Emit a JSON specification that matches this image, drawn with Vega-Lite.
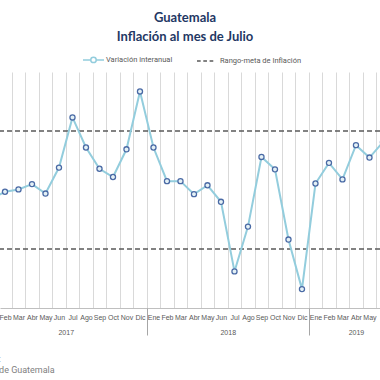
{
  "$schema": "https://vega.github.io/schema/vega-lite/v6.json",
  "width": 380,
  "height": 236,
  "autosize": {"type": "none"},
  "padding": {"left": 0, "top": 72, "right": 0, "bottom": 72},
  "background": "white",
  "config": {
    "view": {"stroke": null},
    "font": "Roboto"
  },
  "title": {
    "text": ["Guatemala", "Inflación al mes de Julio"],
    "font": "Lato",
    "fontSize": 13,
    "fontWeight": "bold",
    "color": "#1F3864",
    "lineHeight": 19,
    "anchor": "middle",
    "offset": 4,
    "dx": -5
  },
  "datasets": {
    "serie": [
      {"idx": 0, "mes": "Ene", "anio": 2017, "v": 3.85},
      {"idx": 1, "mes": "Feb", "anio": 2017, "v": 3.97},
      {"idx": 2, "mes": "Mar", "anio": 2017, "v": 4.01},
      {"idx": 3, "mes": "Abr", "anio": 2017, "v": 4.10},
      {"idx": 4, "mes": "May", "anio": 2017, "v": 3.94},
      {"idx": 5, "mes": "Jun", "anio": 2017, "v": 4.38},
      {"idx": 6, "mes": "Jul", "anio": 2017, "v": 5.23},
      {"idx": 7, "mes": "Ago", "anio": 2017, "v": 4.72},
      {"idx": 8, "mes": "Sep", "anio": 2017, "v": 4.36},
      {"idx": 9, "mes": "Oct", "anio": 2017, "v": 4.22},
      {"idx": 10, "mes": "Nov", "anio": 2017, "v": 4.69},
      {"idx": 11, "mes": "Dic", "anio": 2017, "v": 5.67},
      {"idx": 12, "mes": "Ene", "anio": 2018, "v": 4.72},
      {"idx": 13, "mes": "Feb", "anio": 2018, "v": 4.15},
      {"idx": 14, "mes": "Mar", "anio": 2018, "v": 4.15},
      {"idx": 15, "mes": "Abr", "anio": 2018, "v": 3.93},
      {"idx": 16, "mes": "May", "anio": 2018, "v": 4.08},
      {"idx": 17, "mes": "Jun", "anio": 2018, "v": 3.80},
      {"idx": 18, "mes": "Jul", "anio": 2018, "v": 2.62},
      {"idx": 19, "mes": "Ago", "anio": 2018, "v": 3.38},
      {"idx": 20, "mes": "Sep", "anio": 2018, "v": 4.56},
      {"idx": 21, "mes": "Oct", "anio": 2018, "v": 4.35},
      {"idx": 22, "mes": "Nov", "anio": 2018, "v": 3.16},
      {"idx": 23, "mes": "Dic", "anio": 2018, "v": 2.32},
      {"idx": 24, "mes": "Ene", "anio": 2019, "v": 4.11},
      {"idx": 25, "mes": "Feb", "anio": 2019, "v": 4.46},
      {"idx": 26, "mes": "Mar", "anio": 2019, "v": 4.18},
      {"idx": 27, "mes": "Abr", "anio": 2019, "v": 4.76},
      {"idx": 28, "mes": "May", "anio": 2019, "v": 4.55},
      {"idx": 29, "mes": "Jun", "anio": 2019, "v": 4.81},
      {"idx": 30, "mes": "Jul", "anio": 2019, "v": 3.90}
    ],
    "meta": [
      {"limite": "superior", "v": 5},
      {"limite": "inferior", "v": 3}
    ],
    "leyenda": [
      {"idx": -5, "v": 4, "serie": "Variación interanual"},
      {"idx": -5, "v": 4, "serie": "Rango-meta de Inflación"}
    ]
  },
  "resolve": {"axis": {"x": "independent"}},
  "layer": [
    {
      "data": {"name": "serie"},
      "mark": {"type": "point", "opacity": 0, "clip": true},
      "encoding": {
        "x": {
          "field": "idx", "type": "quantitative",
          "scale": {"domain": [0.63, 28.78], "nice": false, "zero": false},
          "axis": {
            "orient": "bottom",
            "values": [0.5,1.5,2.5,3.5,4.5,5.5,6.5,7.5,8.5,9.5,10.5,11.5,12.5,13.5,14.5,15.5,16.5,17.5,18.5,19.5,20.5,21.5,22.5,23.5,24.5,25.5,26.5,27.5,28.5,29.5],
            "labels": false, "ticks": false, "domain": false, "grid": true,
            "gridColor": "#D9D9D9", "gridWidth": 1, "title": null
          }
        },
        "y": {
          "field": "v", "type": "quantitative",
          "scale": {"domain": [2, 6], "nice": false, "zero": false},
          "axis": {
            "values": [2, 3, 4, 5, 6],
            "labels": false, "ticks": false, "domain": false, "grid": true,
            "gridColor": "#BFBFBF", "gridWidth": 1, "title": null
          }
        }
      }
    },
    {
      "data": {"name": "meta"},
      "mark": {"type": "rule", "stroke": "#595959", "strokeWidth": 1.6, "strokeDash": [5, 3]},
      "encoding": {
        "y": {"field": "v", "type": "quantitative", "scale": {"domain": [2, 6], "nice": false, "zero": false}, "axis": null}
      }
    },
    {
      "data": {"name": "serie"},
      "mark": {"type": "line", "stroke": "#93CDDD", "strokeWidth": 2, "clip": true},
      "encoding": {
        "x": {
          "field": "idx", "type": "quantitative",
          "scale": {"domain": [0.63, 28.78], "nice": false, "zero": false},
          "axis": {
            "orient": "bottom",
            "values": [0,1,2,3,4,5,6,7,8,9,10,11,12,13,14,15,16,17,18,19,20,21,22,23,24,25,26,27,28,29,30],
            "labelExpr": "['Ene','Feb','Mar','Abr','May','Jun','Jul','Ago','Sep','Oct','Nov','Dic'][datum.value % 12]",
            "ticks": false, "domain": true, "domainColor": "#BFBFBF", "domainWidth": 1,
            "grid": false, "labelPadding": 5, "labelFontSize": 7, "labelColor": "#595959",
            "labelFont": "Liberation Sans", "labelOverlap": false, "labelFlush": false, "labelBound": false,
            "title": null
          }
        },
        "y": {"field": "v", "type": "quantitative", "scale": {"domain": [2, 6], "nice": false, "zero": false}, "axis": null}
      }
    },
    {
      "data": {"name": "serie"},
      "mark": {"type": "point", "shape": "circle", "size": 26, "filled": true, "fill": "#E4F1F6", "stroke": "#4A6AA5", "strokeWidth": 1.3, "opacity": 1, "clip": true},
      "encoding": {
        "x": {"field": "idx", "type": "quantitative", "scale": {"domain": [0.63, 28.78], "nice": false, "zero": false}, "axis": null},
        "y": {"field": "v", "type": "quantitative", "scale": {"domain": [2, 6], "nice": false, "zero": false}, "axis": null}
      }
    },
    {
      "data": {"name": "leyenda"},
      "mark": {"type": "point", "filled": true, "fill": "white", "strokeWidth": 1.3, "opacity": 1, "clip": true},
      "encoding": {
        "x": {
          "field": "idx", "type": "quantitative",
          "scale": {"domain": [0.63, 28.78], "nice": false, "zero": false},
          "axis": {
            "orient": "bottom",
            "values": [5.5, 17.5, 27],
            "labelExpr": "datum.value < 12 ? '2017' : (datum.value < 24 ? '2018' : '2019')",
            "ticks": true, "tickSize": 27, "tickOffset": 81, "labelOffset": -81, "tickColor": "#A6A6A6", "tickWidth": 1,
            "domain": false, "grid": false, "labelPadding": -7, "labelFontSize": 7, "labelColor": "#595959",
            "labelFont": "Liberation Sans", "labelOverlap": false, "labelFlush": false, "labelBound": false,
            "title": ["Fuente:", "Banco de Guatemala"],
            "titleX": -29, "titleY": 53, "titleAlign": "left", "titleBaseline": "alphabetic",
            "titleFont": "Roboto", "titleFontSize": 9, "titleFontWeight": "normal", "titleColor": "#7F7F7F",
            "titleLineHeight": 11.5, "titleAngle": 0
          }
        },
        "y": {"field": "v", "type": "quantitative", "scale": {"domain": [2, 6], "nice": false, "zero": false}, "axis": null},
        "stroke": {
          "field": "serie", "type": "nominal",
          "scale": {"domain": ["Variación interanual", "Rango-meta de Inflación"], "range": ["#93CDDD", "#595959"]},
          "legend": {
            "orient": "none", "legendX": 82, "legendY": -24, "direction": "horizontal",
            "title": null, "padding": 0, "symbolSize": 441, "symbolStrokeWidth": 1.5, "symbolFillColor": "white",
            "labelFont": "Roboto", "labelFontSize": 7.5, "labelColor": "#595959", "labelOffset": 1,
            "columnPadding": 21, "labelLimit": 200
          }
        },
        "shape": {
          "field": "serie", "type": "nominal",
          "scale": {
            "domain": ["Variación interanual", "Rango-meta de Inflación"],
            "range": [
              "M-1,0L-0.26,0M0.26,0L1,0M0.26,0A0.26,0.26,0,1,1,-0.26,0A0.26,0.26,0,1,1,0.26,0Z",
              "M-1,0L-0.65,0M-0.4,0L-0.05,0M0.2,0L0.55,0"
            ]
          },
          "legend": {
            "orient": "none", "legendX": 82, "legendY": -24, "direction": "horizontal",
            "title": null, "padding": 0, "symbolSize": 441, "symbolStrokeWidth": 1.5, "symbolFillColor": "white",
            "labelFont": "Roboto", "labelFontSize": 7.5, "labelColor": "#595959", "labelOffset": 1,
            "columnPadding": 21, "labelLimit": 200
          }
        }
      }
    }
  ]
}
